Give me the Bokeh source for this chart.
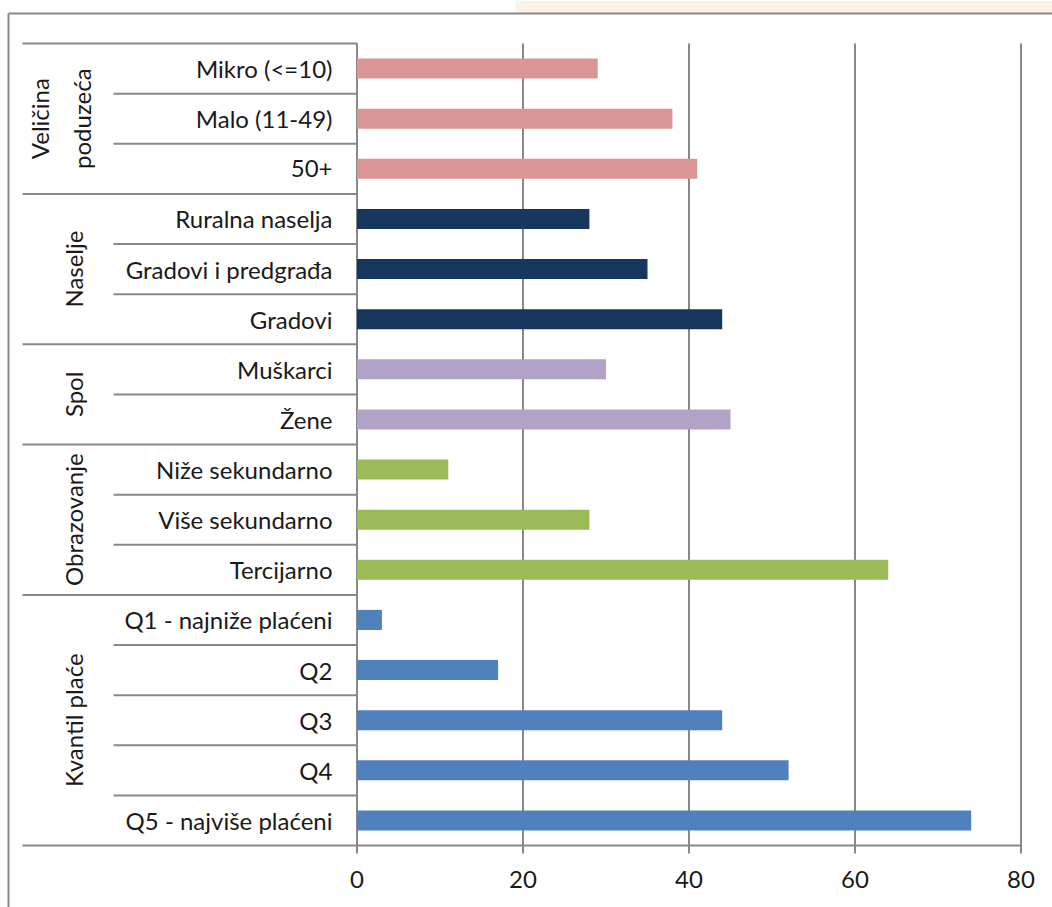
import math
from bokeh.plotting import figure
from bokeh.models import Range1d, ColumnDataSource
from bokeh.core.properties import value
from bokeh.embed import file_html
from bokeh.resources import INLINE

# ---------------- data ----------------
categories = [
    "Mikro (<=10)", "Malo (11-49)", "50+",
    "Ruralna naselja", "Gradovi i predgrađa", "Gradovi",
    "Muškarci", "Žene",
    "Niže sekundarno", "Više sekundarno", "Tercijarno",
    "Q1 - najniže plaćeni", "Q2", "Q3", "Q4", "Q5 - najviše plaćeni",
]
values = [29, 38, 41, 28, 35, 44, 30, 45, 11, 28, 64, 3, 17, 44, 52, 74]
groups = ["Veličina\npoduzeća", "Naselje", "Spol", "Obrazovanje", "Kvantil plaće"]
group_sizes = [3, 3, 2, 3, 5]
group_colors = ["#d99694", "#17375e", "#b3a2c7", "#9bbb59", "#4f81bd"]
x_ticks = [0, 20, 40, 60, 80]

# ---------------- layout (pixels) ----------------
W, H = 1052, 907
X0_PX, X80_PX = 356.5, 1020.5
S = (X80_PX - X0_PX) / 80.0
TOP_PX, BOT_PX = 43.0, 845.0
ROW = (BOT_PX - TOP_PX) / len(categories)

def xpx(px):
    return (px - X0_PX) / S

def ypx(py):
    return (py - TOP_PX) / ROW

FONT = "Lato"
FSIZE = "24px"
TXT = "#1a1a1a"
LINE = "#888888"

p = figure(width=W, height=H, output_backend="svg", toolbar_location=None,
           x_range=Range1d(xpx(0), xpx(W)), y_range=Range1d(ypx(H), ypx(0)),
           x_axis_location=None, y_axis_location=None, min_border=0,
           outline_line_color=None, background_fill_color="white",
           border_fill_color="white")
p.xgrid.visible = False
p.ygrid.visible = False

# beige strip at the top right
p.quad(left=[xpx(515)], right=[xpx(W)], top=[ypx(0)], bottom=[ypx(12)],
       fill_color="#fcf3e8", line_color=None)

# outer frame (left + top)
p.segment(x0=[xpx(8), xpx(8)], y0=[ypx(13), ypx(13)],
          x1=[xpx(8), xpx(W)], y1=[ypx(H), ypx(13)],
          line_color=LINE, line_width=2)

# per-row colours
row_colors = []
group_start = []
k = 0
for g, n, c in zip(groups, group_sizes, group_colors):
    group_start.append(k)
    row_colors += [c] * n
    k += n
boundaries_group = set(group_start + [len(categories)])

# separator lines in the category area
sx0, sx1, sy = [], [], []
for b in range(len(categories) + 1):
    sx0.append(xpx(22) if b in boundaries_group else xpx(113))
    sx1.append(80 if b == len(categories) else 0)
    sy.append(b)
p.segment(x0=sx0, y0=sy, x1=sx1, y1=sy, line_color=LINE, line_width=2)

# vertical grid lines + axis line + ticks
p.segment(x0=x_ticks, y0=[0] * len(x_ticks), x1=x_ticks,
          y1=[ypx(853)] * len(x_ticks), line_color=LINE, line_width=2)

# bars
src = ColumnDataSource(dict(y=[i + 0.5 for i in range(len(categories))],
                            v=values, c=row_colors, cat=categories))
p.hbar(y="y", left=0, right="v", height=0.4, fill_color="c", line_color=None,
       source=src)

# category labels
p.text(x=xpx(332), y="y", text="cat", source=src, text_align="right",
       text_baseline="middle", text_font=value(FONT), text_font_size=FSIZE,
       text_color=TXT)

# group labels (rotated)
gx, gy = [], []
for g, n, st in zip(groups, group_sizes, group_start):
    gy.append(st + n / 2.0)
    gx.append(xpx(60) if "\n" in g else xpx(73))
p.text(x=gx, y=gy, text=groups, angle=math.pi / 2, text_align="center",
       text_baseline="middle", text_font=value(FONT), text_font_size=FSIZE,
       text_color=TXT, text_line_height=1.45)

# tick labels
p.text(x=x_ticks, y=[ypx(879)] * len(x_ticks), text=[str(t) for t in x_ticks],
       text_align="center", text_baseline="middle", text_font=value(FONT),
       text_font_size=FSIZE, text_color=TXT)

open("out.html", "w").write(file_html(p, INLINE))
